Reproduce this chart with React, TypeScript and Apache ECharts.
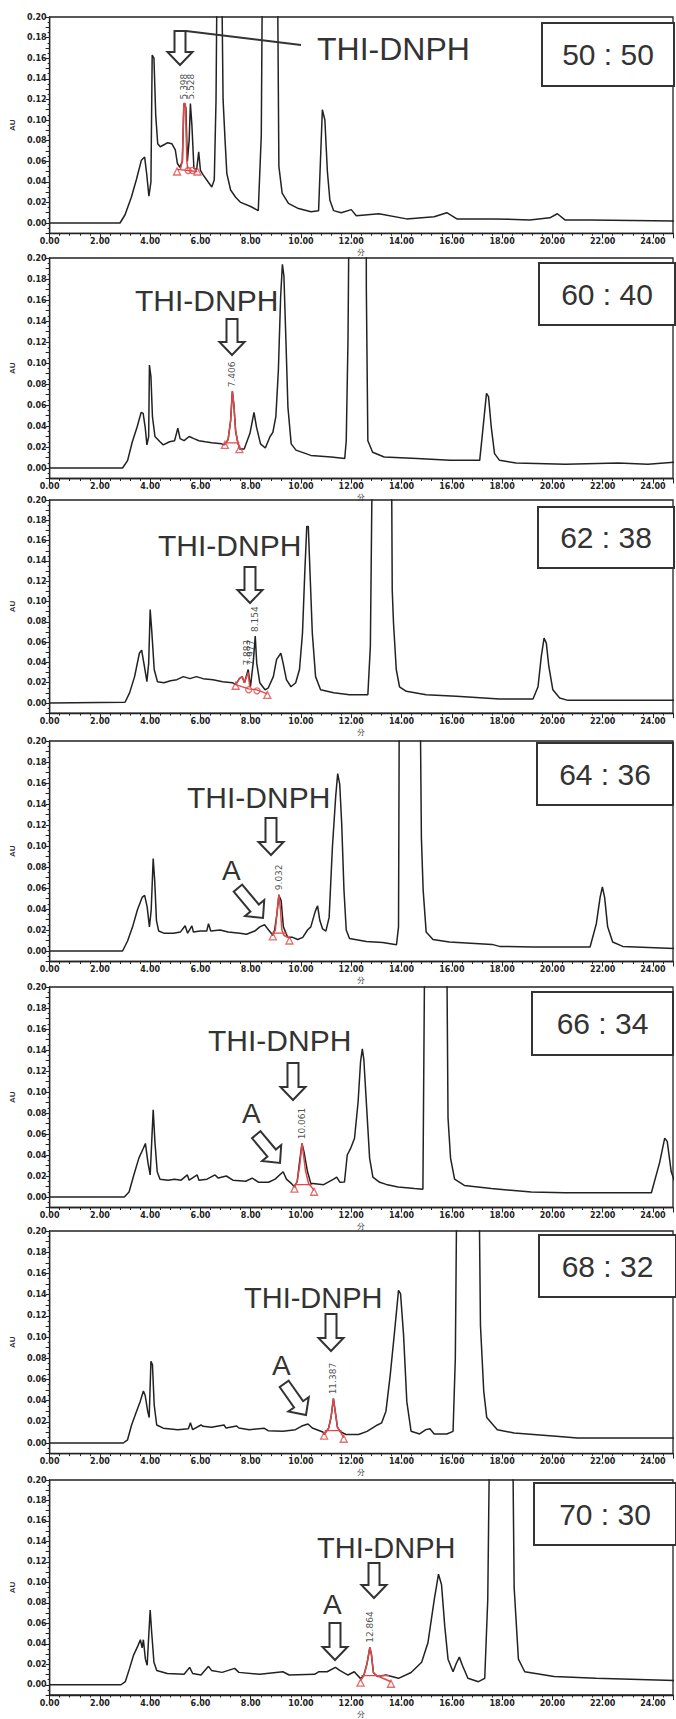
import React, { useEffect, useRef } from 'react';
import * as echarts from 'echarts';

const ratios = ['50 : 50', '60 : 40', '62 : 38', '64 : 36', '66 : 34', '68 : 32', '70 : 30'];
const peakName = 'THI-DNPH';
const impurityName = 'A';

const trace5050 = [[0,0],[2.8,0],[3.0,0.008],[3.25,0.025],[3.45,0.042],[3.65,0.061],[3.78,0.064],[3.86,0.048],[3.95,0.026],[4.03,0.04],[4.08,0.163],[4.15,0.16],[4.22,0.105],[4.3,0.077],[4.4,0.074],[4.55,0.076],[4.7,0.078],[4.86,0.077],[5.0,0.071],[5.08,0.058],[5.18,0.054],[5.28,0.06],[5.34,0.116],[5.42,0.112],[5.48,0.06],[5.55,0.08],[5.6,0.116],[5.66,0.095],[5.74,0.053],[5.85,0.052],[5.93,0.069],[6.0,0.051],[6.1,0.047],[6.3,0.04],[6.45,0.035],[6.55,0.042],[6.62,0.12],[6.68,0.3],[6.82,0.3],[6.9,0.12],[6.98,0.08],[7.05,0.048],[7.2,0.032],[7.4,0.025],[7.6,0.02],[8.0,0.016],[8.3,0.012],[8.42,0.085],[8.48,0.3],[9.05,0.3],[9.12,0.055],[9.25,0.029],[9.5,0.019],[9.9,0.014],[10.4,0.011],[10.7,0.012],[10.85,0.11],[10.95,0.1],[11.05,0.05],[11.15,0.022],[11.3,0.012],[11.6,0.01],[12.0,0.013],[12.2,0.007],[13.1,0.009],[14.2,0.004],[15.3,0.006],[15.8,0.01],[16.2,0.004],[17.6,0.004],[19.1,0.003],[19.9,0.005],[20.2,0.009],[20.5,0.003],[21.5,0.003],[24.9,0.002]];
const red5050 = [[5.2,0.052],[5.28,0.06],[5.34,0.116],[5.4,0.116],[5.46,0.06],[5.5,0.052]];
const base5050 = [[5.07,0.052],[5.88,0.05]];
const tri5050 = [[5.07,0.05],[5.88,0.05]];
const dot5050 = [[5.51,0.051],[5.68,0.051]];
const rt5050 = [[5.36,0.118],[5.62,0.118]];
const rtText5050 = ['5.398', '5.528'];

const trace6040 = [[0,0],[2.9,0],[3.1,0.007],[3.29,0.025],[3.48,0.039],[3.64,0.053],[3.72,0.052],[3.8,0.039],[3.87,0.022],[3.94,0.03],[3.97,0.098],[4.03,0.087],[4.09,0.049],[4.19,0.03],[4.39,0.025],[4.52,0.022],[4.77,0.025],[4.97,0.026],[5.1,0.038],[5.19,0.028],[5.35,0.026],[5.55,0.03],[5.74,0.028],[5.94,0.026],[6.19,0.025],[6.45,0.024],[6.84,0.023],[6.95,0.022],[7.1,0.027],[7.2,0.045],[7.27,0.073],[7.33,0.06],[7.4,0.035],[7.48,0.025],[7.56,0.018],[7.74,0.018],[7.97,0.033],[8.13,0.053],[8.23,0.039],[8.39,0.023],[8.58,0.019],[8.77,0.03],[8.88,0.034],[9.0,0.049],[9.1,0.093],[9.19,0.163],[9.26,0.194],[9.32,0.183],[9.4,0.122],[9.48,0.058],[9.61,0.023],[9.8,0.017],[10.39,0.012],[11.2,0.0105],[11.74,0.009],[11.8,0.026],[11.87,0.122],[11.93,0.3],[12.59,0.3],[12.6,0.17],[12.66,0.026],[12.85,0.015],[13.31,0.0105],[14.62,0.009],[15.93,0.0073],[17.11,0.0073],[17.22,0.033],[17.38,0.071],[17.46,0.068],[17.57,0.039],[17.7,0.0137],[17.9,0.0073],[18.56,0.0048],[20.52,0.0035],[22.62,0.0048],[23.8,0.0035],[24.96,0.0057]];
const red6040 = [[6.95,0.022],[7.1,0.027],[7.2,0.045],[7.27,0.073],[7.33,0.06],[7.4,0.035],[7.48,0.025],[7.56,0.018]];
const base6040 = [[6.97,0.024],[7.55,0.024]];
const tri6040 = [[6.97,0.022],[7.55,0.018]];
const dot6040 = [];
const rt6040 = [[7.27,0.075]];
const rtText6040 = ['7.406'];

const trace6238 = [[0,0],[3.0,0.0007],[3.18,0.01],[3.38,0.026],[3.57,0.049],[3.66,0.052],[3.77,0.036],[3.87,0.021],[3.94,0.039],[4.0,0.092],[4.06,0.072],[4.16,0.033],[4.29,0.021],[4.55,0.02],[4.81,0.022],[5.06,0.023],[5.32,0.026],[5.58,0.024],[5.84,0.026],[6.1,0.024],[6.5,0.023],[6.88,0.021],[7.27,0.02],[7.4,0.018],[7.55,0.024],[7.66,0.026],[7.75,0.02],[7.9,0.033],[7.99,0.016],[8.1,0.04],[8.18,0.066],[8.24,0.039],[8.36,0.02],[8.57,0.013],[8.7,0.015],[8.9,0.026],[9.03,0.043],[9.2,0.049],[9.29,0.039],[9.42,0.023],[9.6,0.016],[9.79,0.02],[9.94,0.033],[10.06,0.069],[10.15,0.128],[10.23,0.174],[10.29,0.174],[10.36,0.128],[10.45,0.069],[10.58,0.026],[10.78,0.013],[11.3,0.01],[11.93,0.0082],[12.66,0.0082],[12.76,0.056],[12.86,0.3],[13.59,0.3],[13.63,0.111],[13.68,0.079],[13.79,0.033],[13.92,0.016],[14.19,0.0115],[14.98,0.0082],[16.18,0.0066],[17.9,0.0039],[19.23,0.0039],[19.43,0.016],[19.56,0.046],[19.67,0.064],[19.76,0.059],[19.86,0.036],[20.02,0.013],[20.29,0.0049],[20.62,0.0026],[24.9,0.0026]];
const red6238 = [[7.4,0.018],[7.55,0.024],[7.66,0.026],[7.75,0.02],[7.9,0.03],[7.96,0.016]];
const base6238 = [[7.4,0.018],[7.92,0.014],[8.25,0.013],[8.66,0.009]];
const tri6238 = [[7.4,0.017],[8.66,0.008]];
const dot6238 = [[7.92,0.013],[8.25,0.012]];
const rt6238 = [[7.86,0.035],[8.0,0.035],[8.18,0.068]];
const rtText6238 = ['7.883', '7.977', '8.154'];

const trace6436 = [[0,0],[2.9,0],[3.1,0.0095],[3.3,0.023],[3.49,0.039],[3.68,0.051],[3.78,0.053],[3.88,0.042],[3.97,0.023],[4.04,0.039],[4.12,0.088],[4.18,0.067],[4.25,0.029],[4.34,0.019],[4.54,0.017],[4.93,0.017],[5.2,0.018],[5.39,0.024],[5.49,0.017],[5.66,0.024],[5.72,0.018],[5.99,0.019],[6.25,0.019],[6.32,0.026],[6.41,0.019],[6.78,0.02],[7.1,0.018],[7.57,0.017],[7.83,0.016],[8.16,0.019],[8.36,0.023],[8.55,0.025],[8.68,0.021],[8.88,0.015],[8.95,0.02],[9.04,0.035],[9.12,0.053],[9.21,0.048],[9.3,0.023],[9.47,0.013],[9.67,0.013],[9.87,0.011],[10.07,0.013],[10.26,0.02],[10.39,0.023],[10.57,0.038],[10.66,0.043],[10.75,0.029],[10.86,0.021],[10.99,0.019],[11.12,0.032],[11.25,0.099],[11.38,0.147],[11.46,0.169],[11.54,0.159],[11.62,0.121],[11.71,0.058],[11.8,0.02],[11.93,0.012],[12.6,0.009],[13.25,0.008],[13.8,0.006],[13.88,0.023],[13.92,0.3],[14.72,0.3],[14.79,0.108],[14.86,0.058],[14.98,0.018],[15.25,0.011],[15.9,0.0086],[17.6,0.0063],[17.9,0.0044],[19.2,0.0038],[21.5,0.0038],[21.75,0.026],[21.9,0.051],[21.99,0.061],[22.08,0.051],[22.2,0.023],[22.4,0.0086],[22.8,0.0044],[24.9,0.0022]];
const red6436 = [[8.88,0.015],[8.98,0.02],[9.04,0.035],[9.12,0.054],[9.18,0.04],[9.24,0.02],[9.32,0.015],[9.54,0.012]];
const base6436 = [[8.88,0.017],[9.45,0.017]];
const tri6436 = [[8.88,0.014],[9.54,0.01]];
const dot6436 = [];
const rt6436 = [[9.12,0.056]];
const rtText6436 = ['9.032'];

const trace6634 = [[0,0],[2.97,0],[3.16,0.0048],[3.35,0.021],[3.55,0.037],[3.72,0.046],[3.81,0.051],[3.91,0.033],[4.0,0.021],[4.06,0.052],[4.12,0.083],[4.19,0.052],[4.28,0.024],[4.39,0.017],[4.71,0.016],[4.97,0.017],[5.23,0.016],[5.48,0.021],[5.55,0.016],[5.87,0.021],[5.94,0.016],[6.26,0.017],[6.58,0.021],[6.71,0.018],[7.03,0.02],[7.29,0.016],[7.8,0.015],[8.06,0.018],[8.32,0.014],[8.71,0.014],[8.97,0.017],[9.29,0.024],[9.42,0.017],[9.61,0.013],[9.74,0.0095],[9.85,0.015],[9.94,0.033],[10.04,0.051],[10.12,0.043],[10.26,0.024],[10.39,0.013],[10.9,0.0117],[11.3,0.017],[11.42,0.019],[11.55,0.014],[11.73,0.0143],[11.84,0.04],[11.97,0.046],[12.13,0.056],[12.27,0.09],[12.37,0.129],[12.44,0.141],[12.5,0.131],[12.6,0.09],[12.73,0.037],[12.86,0.019],[13.13,0.014],[13.39,0.012],[13.86,0.0095],[14.52,0.008],[14.85,0.0073],[14.94,0.3],[15.78,0.3],[15.85,0.075],[15.95,0.037],[16.11,0.017],[16.5,0.011],[17.57,0.008],[19.16,0.0048],[20.5,0.0041],[23.94,0.0041],[24.27,0.033],[24.47,0.056],[24.57,0.053],[24.73,0.024],[24.97,0.008]];
const red6634 = [[9.74,0.0095],[9.85,0.015],[9.95,0.03],[10.04,0.051],[10.1,0.04],[10.18,0.025],[10.3,0.013],[10.52,0.0063]];
const base6634 = [[9.74,0.0117],[10.45,0.0117]];
const tri6634 = [[9.74,0.008],[10.52,0.005]];
const dot6634 = [];
const rt6634 = [[10.04,0.053]];
const rtText6634 = ['10.061'];

const trace6832 = [[0,0],[2.93,0],[3.1,0.003],[3.26,0.017],[3.43,0.028],[3.6,0.039],[3.73,0.049],[3.8,0.045],[3.9,0.03],[3.96,0.024],[4.03,0.077],[4.09,0.074],[4.16,0.036],[4.26,0.017],[4.52,0.014],[5.1,0.0126],[5.52,0.0135],[5.6,0.019],[5.69,0.0126],[6.02,0.017],[6.1,0.0157],[6.44,0.0148],[6.94,0.017],[7.02,0.0141],[7.44,0.016],[7.53,0.0141],[7.94,0.0126],[8.53,0.014],[8.69,0.0116],[9.28,0.011],[9.78,0.0126],[10.03,0.016],[10.28,0.018],[10.45,0.0141],[10.87,0.0104],[10.92,0.008],[11.1,0.014],[11.2,0.025],[11.29,0.042],[11.36,0.03],[11.45,0.015],[11.55,0.011],[11.79,0.008],[12.29,0.008],[12.63,0.011],[13.04,0.017],[13.21,0.019],[13.38,0.03],[13.55,0.064],[13.71,0.102],[13.88,0.144],[13.96,0.141],[14.08,0.102],[14.21,0.039],[14.38,0.011],[14.72,0.0085],[14.97,0.0126],[15.13,0.0135],[15.3,0.0085],[15.8,0.0085],[16.05,0.011],[16.14,0.08],[16.22,0.3],[17.06,0.3],[17.14,0.111],[17.27,0.049],[17.39,0.024],[17.81,0.0126],[18.48,0.0094],[20.15,0.0063],[21.0,0.0047],[24.9,0.0047]];
const red6832 = [[10.92,0.008],[11.1,0.014],[11.2,0.025],[11.29,0.042],[11.36,0.03],[11.45,0.015],[11.55,0.011],[11.7,0.005]];
const base6832 = [[10.95,0.0116],[11.62,0.0116]];
const tri6832 = [[10.92,0.007],[11.7,0.004]];
const dot6832 = [];
const rt6832 = [[11.29,0.044]];
const rtText6832 = ['11.387'];

const trace7030 = [[0,0],[2.84,0],[3.01,0.003],[3.18,0.016],[3.34,0.029],[3.51,0.038],[3.61,0.044],[3.68,0.036],[3.73,0.044],[3.81,0.025],[3.88,0.019],[3.95,0.051],[4.0,0.073],[4.06,0.051],[4.15,0.022],[4.26,0.014],[4.68,0.011],[5.35,0.0102],[5.57,0.017],[5.69,0.011],[6.02,0.0095],[6.32,0.018],[6.44,0.014],[6.86,0.0121],[7.36,0.016],[7.53,0.0121],[8.36,0.0102],[9.28,0.0127],[9.53,0.0095],[10.54,0.0102],[10.7,0.0127],[11.04,0.0127],[11.37,0.017],[11.54,0.014],[11.87,0.0095],[12.12,0.0127],[12.37,0.006],[12.5,0.009],[12.62,0.02],[12.74,0.0365],[12.8,0.03],[12.88,0.012],[13.04,0.008],[13.38,0.0095],[13.88,0.0063],[14.38,0.012],[14.8,0.022],[15.05,0.041],[15.3,0.083],[15.47,0.108],[15.59,0.098],[15.72,0.057],[15.85,0.025],[16.05,0.0127],[16.18,0.021],[16.3,0.027],[16.42,0.019],[16.64,0.0063],[17.06,0.003],[17.31,0.0063],[17.43,0.083],[17.53,0.3],[18.4,0.3],[18.48,0.095],[18.65,0.025],[18.9,0.0127],[20.07,0.008],[21.74,0.0063],[24.9,0.004]];
const red7030 = [[12.37,0.004],[12.5,0.009],[12.62,0.02],[12.74,0.0365],[12.8,0.03],[12.88,0.012],[13.0,0.009],[13.58,0.003]];
const base7030 = [[12.4,0.0089],[13.5,0.0089]];
const tri7030 = [[12.37,0.002],[13.58,0.001]];
const dot7030 = [];
const rt7030 = [[12.74,0.039]];
const rtText7030 = ['12.864'];

const traces = [trace5050, trace6040, trace6238, trace6436, trace6634, trace6832, trace7030];
const reds = [red5050, red6040, red6238, red6436, red6634, red6832, red7030];
const bases = [base5050, base6040, base6238, base6436, base6634, base6832, base7030];
const tris = [tri5050, tri6040, tri6238, tri6436, tri6634, tri6832, tri7030];
const dots = [dot5050, dot6040, dot6238, dot6436, dot6634, dot6832, dot7030];
const rts = [rt5050, rt6040, rt6238, rt6436, rt6634, rt6832, rt7030];
const rtTexts = [rtText5050, rtText6040, rtText6238, rtText6436, rtText6634, rtText6832, rtText7030];

// layout (pixels): y of 0.20 and of 0.00 for each panel
const panelTop = [17, 258, 500, 741, 987, 1231, 1480];
const panelZero = [223, 468, 703, 951, 1197, 1443, 1690];

// annotation layout (pixels)
const thiPos = [[317, 49, 32], [135, 300, 30], [158, 545, 30], [187, 797, 30], [208, 1040, 30], [244, 1298, 29], [317, 1548, 29]];
const thiArrow = [[180, 65, 34], [232, 355, 36], [250, 603, 36], [271, 855, 37], [293, 1100, 37], [331, 1351, 37], [374, 1598, 35]];
const aPos = [null, null, null, [222, 870], [242, 1113], [272, 1365], [323, 1604]];
const aArrow = [null, null, null, [263, 918, 39, 50], [280, 1163, 37, 50], [306, 1415, 38, 55], [335, 1660, 37, 90]];
const boxPos = [[542, 23, 132, 63], [539, 263, 136, 62], [538, 507, 136, 61], [537, 743, 136, 62], [532, 992, 141, 63], [539, 1235, 137, 62], [534, 1483, 142, 62]];

const INK = '#222';
const RED = '#e04848';
const X_MAX = 24.8;

function arrowPoints(tx: number, ty: number, len: number, angle: number) {
  const sw = 11, hw = 25, hl = 13;
  const a = (angle * Math.PI) / 180;
  const dx = Math.cos(a), dy = Math.sin(a);
  const px = -dy, py = dx;
  const bx = tx - dx * len, by = ty - dy * len;
  const local = [[0, -sw / 2], [len - hl, -sw / 2], [len - hl, -hw / 2], [len, 0], [len - hl, hw / 2], [len - hl, sw / 2], [0, sw / 2]];
  return local.map(([u, w]) => [bx + dx * u + px * w, by + dy * u + py * w]);
}

export default function App() {
  const ref = useRef<HTMLDivElement>(null);
  useEffect(() => {
    if (!ref.current) return;
    const chart = echarts.init(ref.current, null, { renderer: 'svg' });
    const grids: any[] = [];
    const xAxes: any[] = [];
    const yAxes: any[] = [];
    const series: any[] = [];
    const graphic: any[] = [];
    const labelFont = { fontSize: 8, fontWeight: 'bold', color: '#222', fontFamily: 'DejaVu Sans' };
    for (let i = 0; i < 7; i++) {
      const top = panelTop[i];
      const h = (panelZero[i] - top) * 1.05;
      grids.push({ left: 44, right: -2, top, height: h, show: true, borderColor: INK, borderWidth: 1.3, backgroundColor: 'transparent' });
      xAxes.push({
        gridIndex: i, type: 'value', min: 0, max: X_MAX, interval: 2,
        name: '分', nameLocation: 'middle', nameGap: 15, nameTextStyle: { fontSize: 8, color: '#333' },
        axisLine: { onZero: false, lineStyle: { color: INK, width: 1.3 } },
        axisTick: { length: 5, lineStyle: { color: INK } },
        minorTick: { show: true, splitNumber: 5, length: 2.5, lineStyle: { color: INK } },
        splitLine: { show: false },
        axisLabel: { ...labelFont, margin: 4, formatter: (v: number) => (v > 24.5 ? '' : v.toFixed(2)) },
      });
      yAxes.push({
        gridIndex: i, type: 'value', min: -0.01, max: 0.2, interval: 0.01,
        name: 'AU', nameLocation: 'middle', nameGap: 30, nameTextStyle: { fontSize: 8, color: '#333', fontWeight: 'bold' },
        axisLine: { show: true, lineStyle: { color: INK, width: 1.3 } },
        axisTick: { length: 4, lineStyle: { color: INK } },
        minorTick: { show: true, splitNumber: 2, length: 2, lineStyle: { color: INK } },
        splitLine: { show: false },
        axisLabel: {
          ...labelFont, margin: 3,
          formatter: (v: number) => {
            const k = Math.round(v * 100);
            return k >= 0 && k % 2 === 0 ? (k / 100).toFixed(2) : '';
          },
        },
      });
      series.push({
        type: 'line', xAxisIndex: i, yAxisIndex: i, data: traces[i], showSymbol: false, symbol: 'none',
        lineStyle: { color: INK, width: 1.5 }, z: 2, silent: true,
      });
      series.push({
        type: 'line', xAxisIndex: i, yAxisIndex: i, data: reds[i], showSymbol: false, symbol: 'none',
        lineStyle: { color: RED, width: 1.5 }, z: 3, silent: true,
      });
      series.push({
        type: 'line', xAxisIndex: i, yAxisIndex: i, data: bases[i], showSymbol: false, symbol: 'none',
        lineStyle: { color: RED, width: 1.3 }, z: 3, silent: true,
      });
      series.push({
        type: 'scatter', xAxisIndex: i, yAxisIndex: i, data: tris[i], symbol: 'triangle', symbolSize: 7,
        itemStyle: { color: 'rgba(255,255,255,0)', borderColor: RED, borderWidth: 1.3 }, z: 4, silent: true,
      });
      series.push({
        type: 'scatter', xAxisIndex: i, yAxisIndex: i, data: dots[i], symbol: 'circle', symbolSize: 6,
        itemStyle: { color: 'rgba(255,255,255,0)', borderColor: RED, borderWidth: 1.3 }, z: 4, silent: true,
      });
      const texts = rtTexts[i];
      series.push({
        type: 'scatter', xAxisIndex: i, yAxisIndex: i, data: rts[i], symbolSize: 0, z: 5, silent: true,
        label: {
          show: true, position: 'top', distance: 2, rotate: 90, align: 'left', verticalAlign: 'middle',
          formatter: (p: any) => texts[p.dataIndex], fontSize: 9, color: '#222', fontFamily: 'DejaVu Sans',
        },
      });

      // annotations
      const [tx, ty, fs] = thiPos[i];
      graphic.push({ type: 'text', z: 10, style: { text: peakName, x: tx, y: ty, fontSize: fs, fontFamily: 'Liberation Sans', fill: '#333', textVerticalAlign: 'middle', verticalAlign: 'middle' } });
      const [ax, ay, al] = thiArrow[i];
      graphic.push({ type: 'polygon', z: 10, shape: { points: arrowPoints(ax, ay, al, 90) }, style: { fill: '#fff', stroke: '#333', lineWidth: 2 } });
      if (i === 0) {
        graphic.push({ type: 'polyline', z: 10, shape: { points: [[ax - 6, ay - al], [ax + 6, ay - al], [tx - 16, ty - 4]] }, style: { stroke: '#333', lineWidth: 2, fill: 'none' } });
      }
      const ap = aPos[i];
      if (ap) {
        graphic.push({ type: 'text', z: 10, style: { text: impurityName, x: ap[0], y: ap[1], fontSize: 28, fontFamily: 'Liberation Sans', fill: '#333', textVerticalAlign: 'middle', verticalAlign: 'middle' } });
      }
      const aa = aArrow[i];
      if (aa) {
        graphic.push({ type: 'polygon', z: 10, shape: { points: arrowPoints(aa[0], aa[1], aa[2], aa[3]) }, style: { fill: '#fff', stroke: '#333', lineWidth: 2 } });
      }
      const [bx, by, bw, bh] = boxPos[i];
      graphic.push({ type: 'rect', z: 10, shape: { x: bx, y: by, width: bw, height: bh }, style: { fill: '#fff', stroke: '#333', lineWidth: 2 } });
      graphic.push({ type: 'text', z: 11, style: { text: ratios[i], x: bx + bw / 2, y: by + bh / 2, fontSize: 30, fontFamily: 'Liberation Sans', fill: '#333', textAlign: 'center', align: 'center', textVerticalAlign: 'middle', verticalAlign: 'middle' } });
    }
    chart.setOption({
      animation: false,
      backgroundColor: '#fff',
      grid: grids,
      xAxis: xAxes,
      yAxis: yAxes,
      series,
      graphic,
    });
    return () => chart.dispose();
  }, []);
  return <div ref={ref} style={{ position: 'absolute', left: 0, top: 0, width: 676, height: 1719 }} />;
}
